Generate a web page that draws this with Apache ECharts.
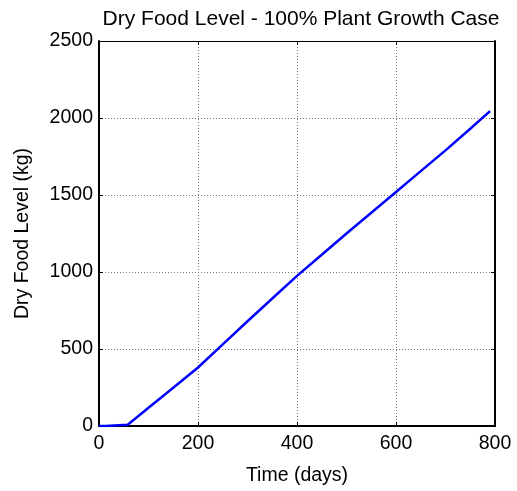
<!DOCTYPE html>
<html>
<head>
<meta charset="utf-8">
<script src="https://cdn.jsdelivr.net/npm/echarts@6/dist/echarts.min.js"></script>
<style>html,body{margin:0;padding:0;background:#fff}#c{width:517px;height:491px}</style>
</head>
<body>
<div id="c"></div>
<script>
var titleText = 'Dry Food Level - 100% Plant Growth Case';
var xName = 'Time (days)';
var yName = 'Dry Food Level (kg)';
var days = [0, 12, 15, 58, 100, 150, 200, 250, 300, 350, 400, 450, 500, 550, 600, 650, 700, 750, 790];
var food = [0, 0, 8, 8, 118, 248, 380, 530, 680, 828, 975, 1112, 1250, 1385, 1520, 1655, 1790, 1930, 2045];
var xTicks = [0, 200, 400, 600, 800];
var yTicks = [0, 500, 1000, 1500, 2000, 2500];

var font = 'Liberation Sans, Arial, Helvetica, sans-serif';
var fs = 19.5;
var pts = days.map(function (d, i) { return [d, food[i]]; });
var chart = echarts.init(document.getElementById('c'));
var gridLine = { show: true, lineStyle: { color: '#777777', type: [1, 2], width: 1 } };
var plain = function (v) { return String(v); };
chart.setOption({
  animation: false,
  backgroundColor: '#fff',
  title: {
    text: titleText, left: 296, top: 4, textAlign: 'center',
    textStyle: { fontFamily: font, fontSize: 21, fontWeight: 'normal', color: '#000' }
  },
  grid: { left: 99, right: 22, top: 41, bottom: 60 },
  xAxis: [{
    type: 'value', min: xTicks[0], max: xTicks[xTicks.length - 1], interval: xTicks[1] - xTicks[0],
    name: xName, nameLocation: 'middle', nameGap: 40,
    nameTextStyle: { fontFamily: font, fontSize: fs, color: '#000' },
    axisLine: { show: true, onZero: false, lineStyle: { color: '#000', width: 2 } },
    axisTick: { show: true, inside: true, length: 4, lineStyle: { color: '#000', width: 1 } },
    axisLabel: { fontFamily: font, fontSize: fs, color: '#000', margin: 8, formatter: plain },
    splitLine: gridLine
  }, {
    type: 'value', position: 'top', min: xTicks[0], max: xTicks[xTicks.length - 1], interval: xTicks[1] - xTicks[0],
    axisLine: { show: true, onZero: false, lineStyle: { color: '#000', width: 1 } },
    axisTick: { show: true, inside: true, length: 4, lineStyle: { color: '#000' } },
    axisLabel: { show: false }, splitLine: { show: false }
  }],
  yAxis: [{
    type: 'value', min: yTicks[0], max: yTicks[yTicks.length - 1], interval: yTicks[1] - yTicks[0],
    name: yName, nameLocation: 'middle', nameGap: 66, nameRotate: 90,
    nameTextStyle: { fontFamily: font, fontSize: fs, color: '#000' },
    axisLine: { show: true, onZero: false, lineStyle: { color: '#000', width: 2 } },
    axisTick: { show: true, inside: true, length: 4, lineStyle: { color: '#000', width: 1 } },
    axisLabel: { fontFamily: font, fontSize: fs, color: '#000', margin: 6, formatter: plain },
    splitLine: gridLine
  }, {
    type: 'value', position: 'right', min: yTicks[0], max: yTicks[yTicks.length - 1], interval: yTicks[1] - yTicks[0],
    axisLine: { show: true, onZero: false, lineStyle: { color: '#000', width: 2 } },
    axisTick: { show: true, inside: true, length: 4, lineStyle: { color: '#000' } },
    axisLabel: { show: false }, splitLine: { show: false }
  }],
  series: [{
    type: 'line', data: pts, showSymbol: false, symbol: 'none',
    lineStyle: { color: '#0000ff', width: 2.5 }, xAxisIndex: 0, yAxisIndex: 0, z: 5
  }]
});
</script>
</body>
</html>
